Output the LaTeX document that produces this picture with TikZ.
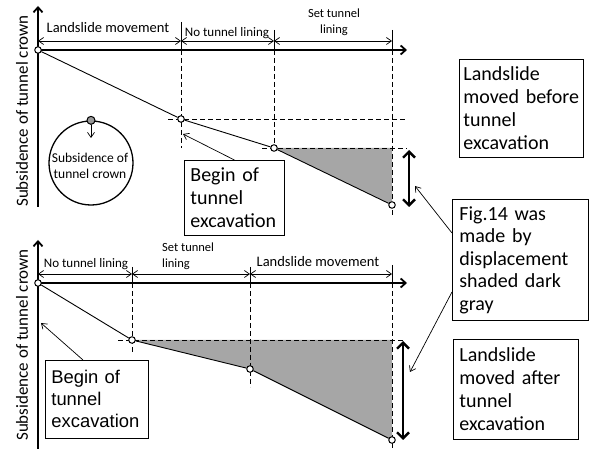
\documentclass[tikz,border=0pt]{standalone}
\usepackage{fontspec}
\setmainfont{Carlito}
\newfontfamily\arialf{Liberation Sans}
\usetikzlibrary{arrows.meta}
\begin{document}
\begin{tikzpicture}[x=1pt,y=-1pt,
 axis/.style={line width=1.8pt,-{Straight Barb[length=5pt,width=9pt]}},
 dim/.style={line width=0.7pt,{Straight Barb[length=5pt,width=7pt]}-{Straight Barb[length=5pt,width=7pt]}},
 tickln/.style={line width=0.7pt},
 guide/.style={line width=0.9pt,dash pattern=on 5pt off 3pt},
 curve/.style={line width=0.9pt},
 pt/.style={circle,draw,line width=1pt,fill=white,inner sep=0pt,minimum size=6.5pt},
 big/.style={line width=2.4pt,{Straight Barb[length=6pt,width=12pt]}-{Straight Barb[length=6pt,width=12pt]}},
 pointer/.style={line width=0.7pt,-{Straight Barb[length=5pt,width=7pt]}},
 box/.style={draw,line width=0.8pt,anchor=north west,align=left,font=\fontsize{20}{23}\selectfont},
 lab/.style={font=\fontsize{14.5}{16}\selectfont,inner sep=0pt},
 labs/.style={font=\fontsize{13}{15}\selectfont,inner sep=0pt},
 small/.style={font=\fontsize{12.5}{16}\selectfont,inner sep=0pt,align=center},
 ylab/.style={rotate=90,font=\fontsize{17}{19}\selectfont,inner sep=0pt},
 shade/.style={fill=black!35}
]
\useasboundingbox (0,0) rectangle (590,449);

% ================= TOP PANEL =================
\fill[shade] (274,148) -- (392,148) -- (392,205) -- cycle;
% guides
\draw[guide] (181,50) -- (181,148);
\draw[guide] (274,50) -- (274,152);
\draw[guide] (392,50) -- (392,215);
\draw[guide] (168,119) -- (405,119);
\draw[guide] (262,148) -- (407,148);
% ticks
\coordinate (ta0) at (38,41);
\coordinate (ta1) at (181,41);
\coordinate (ta2) at (274,41);
\coordinate (ta3) at (392,41);
\draw[tickln] (181,22) -- (181,50);
\draw[tickln] (274,30) -- (274,50);
\draw[tickln] (392,30) -- (392,50);
\draw[dim] (ta0) -- (ta1);
\draw[dim] (ta1) -- (ta2);
\draw[dim] (ta2) -- (ta3);
% axes
\coordinate (tyb) at (38,207);
\coordinate (tyt) at (38,6);
\coordinate (txo) at (38,50);
\coordinate (txe) at (407,50);
\draw[axis] (tyb) -- (tyt);
\draw[axis] (txo) -- (txe);
% curve
\node[pt] (tp0) at (38,50) {};
\node[pt] (tp1) at (181,119) {};
\node[pt] (tp2) at (274,148) {};
\node[pt] (tp3) at (392,205) {};
\draw[curve] (tp0) -- (tp1) -- (tp2) -- (tp3);
% double arrow
\coordinate (td1) at (409,150);
\coordinate (td2) at (409,207);
\draw[big] (td1) -- (td2);
% labels
\node[lab] (tl1) at (108,28) {Landslide movement};
\node[labs] (tl2) at (227,33) {No tunnel lining};
\node[small] (tl3) at (334,22) {Set tunnel\\lining};
\node[ylab] (tyl) at (22,111) {Subsidence of tunnel crown};
% tunnel circle
\node[circle,draw,line width=1.3pt,minimum size=84pt,inner sep=0pt] (tc) at (91,163) {};
\node[circle,draw,line width=1pt,fill=black!40,inner sep=0pt,minimum size=8pt] (gp) at (tc.north) {};
\coordinate (gpe) at (91,138);
\draw[pointer] (gp) -- (gpe);
\node[small,font=\fontsize{13.5}{16.5}\selectfont] (tct) at (90,166) {Subsidence of\\tunnel crown};
% boxes
\node[box,inner xsep=6pt,text width=88pt,minimum width=100pt,minimum height=75pt] (T) at (184,160) {Begin of\\tunnel\\excavation};
\coordinate (tpe) at (183,134);
\draw[pointer] (T.north) -- (tpe);
\node[box,inner xsep=4pt,text width=116pt,minimum width=124pt,minimum height=98pt] (A) at (459,59) {Landslide\\moved before\\tunnel\\excavation};
\node[box,inner xsep=7pt,text width=122pt,minimum width=136pt,minimum height=121pt,font=\fontsize{20}{22.5}\selectfont] (F) at (452,199) {Fig.14 was\\made by\\displacement\\shaded dark\\gray};
\coordinate (f1) at (452,233);
\coordinate (f1e) at (415,186);
\coordinate (f2) at (452,292);
\coordinate (f2e) at (410,372);
\draw[pointer] (f1) -- (f1e);
\draw[pointer] (f2) -- (f2e);

% ================= BOTTOM PANEL =================
\fill[shade] (132,340) -- (392,340) -- (392,440) -- (250,369) -- cycle;
\draw[guide] (132,283) -- (132,352);
\draw[guide] (250,283) -- (250,387);
\draw[guide] (392,283) -- (392,449);
\draw[guide] (118,340) -- (405,340);
\coordinate (ba0) at (38,274);
\coordinate (ba1) at (132,274);
\coordinate (ba2) at (250,274);
\coordinate (ba3) at (392,274);
\draw[tickln] (132,267) -- (132,283);
\draw[tickln] (250,267) -- (250,283);
\draw[tickln] (392,265) -- (392,283);
\draw[dim] (ba0) -- (ba1);
\draw[dim] (ba1) -- (ba2);
\draw[dim] (ba2) -- (ba3);
\coordinate (byb) at (38,449);
\coordinate (byt) at (38,240);
\coordinate (bxo) at (38,283);
\coordinate (bxe) at (407,283);
\draw[axis] (byb) -- (byt);
\draw[axis] (bxo) -- (bxe);
\node[pt] (bp0) at (38,283) {};
\node[pt] (bp1) at (132,340) {};
\node[pt] (bp2) at (250,369) {};
\node[pt] (bp3) at (392,440) {};
\draw[curve] (bp0) -- (bp1) -- (bp2) -- (bp3);
\coordinate (bd1) at (403,341);
\coordinate (bd2) at (403,440);
\draw[big] (bd1) -- (bd2);
\node[labs] (bl1) at (86,264) {No tunnel lining};
\node[small,align=left,anchor=west] (bl2) at (162,256) {Set tunnel\\lining};
\node[lab] (bl3) at (318,262) {Landslide movement};
\node[ylab] (byl) at (22,345) {Subsidence of tunnel crown};
\node[box,inner xsep=6pt,text width=91pt,minimum width=103pt,minimum height=78pt,font=\arialf\fontsize{18.4}{22}\selectfont] (L) at (45,360) {Begin of\\tunnel\\excavation};
\coordinate (ls) at (83,360);
\coordinate (lse) at (41,323);
\draw[pointer] (ls) -- (lse);
\node[box,inner xsep=6pt,text width=113pt,minimum width=125pt,minimum height=100pt] (B) at (453,339) {Landslide\\moved after\\tunnel\\excavation};
\end{tikzpicture}
\end{document}
